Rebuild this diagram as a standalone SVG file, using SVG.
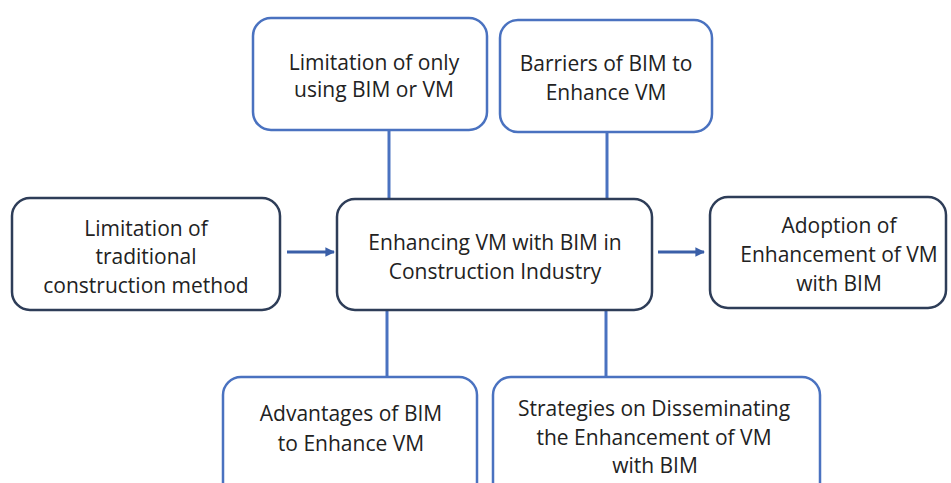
<svg xmlns="http://www.w3.org/2000/svg" width="951" height="483" viewBox="0 0 951 483">
  <defs>
    <style>
      .dark { fill: #ffffff; stroke: #2e3d58; stroke-width: 2.5; }
      .blue { fill: #ffffff; stroke: #4a72c0; stroke-width: 2.5; }
      .label { font-family: "Open Sans", "Noto Sans", "Liberation Sans", sans-serif; font-size: 21px; fill: #222222; text-anchor: middle; }
      .link { stroke: #4a72c0; stroke-width: 3; fill: none; }
      .arrow { stroke: #3a5fa8; stroke-width: 3; fill: none; }
    </style>
    <marker id="head" viewBox="0 0 10 10" refX="9" refY="5" markerWidth="3.2" markerHeight="3.2" orient="auto" markerUnits="strokeWidth">
      <path d="M0,0 L10,5 L0,10 z" fill="#3a5fa8"/>
    </marker>
  </defs>
  <rect width="951" height="483" fill="#ffffff"/>

  <!-- connectors -->
  <g id="connectors">
    <line class="link" x1="389" y1="130" x2="389" y2="199"/>
    <line class="link" x1="607" y1="132" x2="607" y2="199"/>
    <line class="link" x1="387" y1="310" x2="387" y2="377"/>
    <line class="link" x1="606" y1="310" x2="606" y2="377"/>
    <line class="arrow" x1="287" y1="252" x2="334" y2="252" marker-end="url(#head)"/>
    <line class="arrow" x1="658" y1="252" x2="704" y2="252" marker-end="url(#head)"/>
  </g>

  <g id="traditional">
    <rect class="dark" x="12" y="198" width="268" height="112" rx="18"/>
    <text class="label" x="146" y="236">Limitation of</text>
    <text class="label" x="146" y="264">traditional</text>
    <text class="label" x="146" y="293">construction method</text>
  </g>

  <g id="core">
    <rect class="dark" x="337" y="199" width="315" height="111" rx="18"/>
    <text class="label" x="495" y="250">Enhancing VM with BIM in</text>
    <text class="label" x="495" y="279">Construction Industry</text>
  </g>

  <g id="adoption">
    <rect class="dark" x="710" y="197" width="236" height="111" rx="18"/>
    <text class="label" x="839" y="233">Adoption of</text>
    <text class="label" x="839" y="262">Enhancement of VM</text>
    <text class="label" x="839" y="291">with BIM</text>
  </g>

  <g id="limitation">
    <rect class="blue" x="253" y="18" width="234" height="112" rx="18"/>
    <text class="label" x="374" y="70">Limitation of only</text>
    <text class="label" x="374" y="97">using BIM or VM</text>
  </g>

  <g id="barriers">
    <rect class="blue" x="500" y="20" width="212" height="112" rx="18"/>
    <text class="label" x="606" y="71">Barriers of BIM to</text>
    <text class="label" x="606" y="100">Enhance VM</text>
  </g>

  <g id="advantages">
    <rect class="blue" x="223" y="377" width="254" height="130" rx="18"/>
    <text class="label" x="351" y="421">Advantages of BIM</text>
    <text class="label" x="351" y="451">to Enhance VM</text>
  </g>

  <g id="strategies">
    <rect class="blue" x="493" y="377" width="327" height="130" rx="18"/>
    <text class="label" x="654" y="416">Strategies on Disseminating</text>
    <text class="label" x="654" y="445">the Enhancement of VM</text>
    <text class="label" x="655" y="473">with BIM</text>
  </g>
</svg>
